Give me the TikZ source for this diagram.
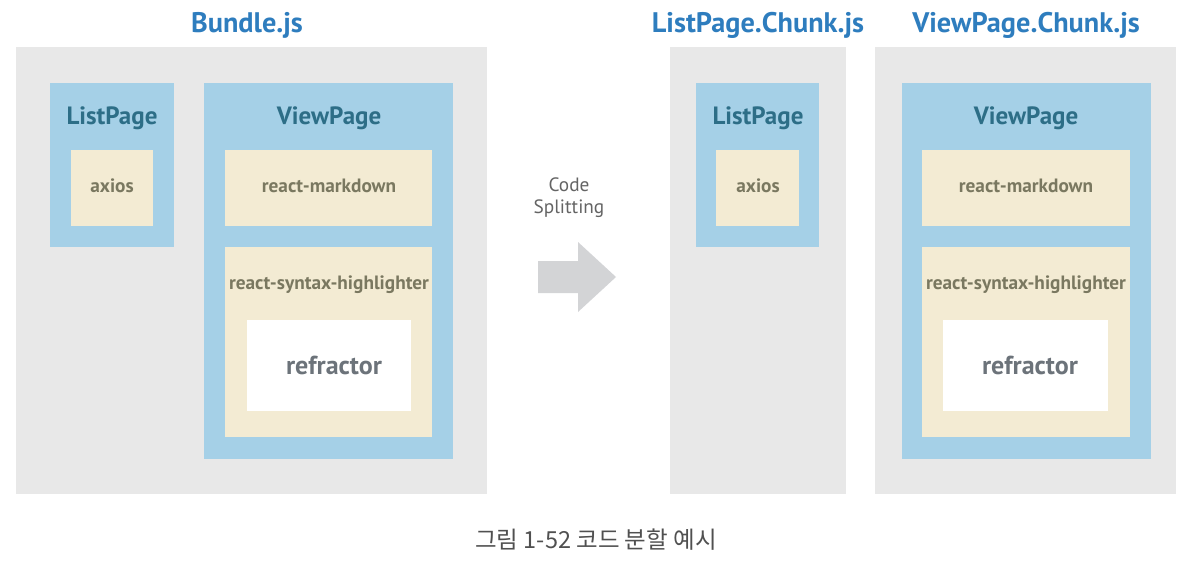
\documentclass[tikz,border=0pt]{standalone}
\usepackage{fontspec}
\setmainfont{PT Sans}
\newfontfamily\krfont{Noto Sans CJK KR}
\definecolor{bgray}{RGB}{232,232,232}
\definecolor{bblue}{RGB}{165,208,231}
\definecolor{bbeige}{RGB}{243,235,211}
\definecolor{ttitle}{RGB}{46,125,190}
\definecolor{tteal}{RGB}{45,110,135}
\definecolor{tolive}{RGB}{122,120,96}
\definecolor{tslate}{RGB}{108,115,122}
\definecolor{tgray}{RGB}{100,100,100}
\definecolor{tcap}{RGB}{80,80,80}
\definecolor{arrowgray}{RGB}{211,212,214}
\begin{document}
\begin{tikzpicture}[x=1pt,y=-1pt,
  box/.style={anchor=north west,inner sep=0pt,outer sep=0pt,draw=none},
  grayb/.style={box,fill=bgray},
  blueb/.style={box,fill=bblue},
  beigeb/.style={box,fill=bbeige},
  whiteb/.style={box,fill=white},
  lbl/.style={anchor=base,inner sep=0pt},
  titletxt/.style={lbl,text=ttitle,font=\fontsize{28.3}{32}\selectfont\bfseries},
  pagetxt/.style={lbl,text=tteal,font=\fontsize{25}{30}\selectfont\bfseries},
  libtxt/.style={lbl,text=tolive,font=\fontsize{19.3}{23}\selectfont\bfseries},
  reftxt/.style={lbl,text=tslate,font=\fontsize{26}{30}\selectfont\bfseries},
  codetxt/.style={lbl,text=tgray,font=\fontsize{19.3}{22}\selectfont},
  captxt/.style={lbl,text=tcap,font=\krfont\fontsize{23.5}{27}\selectfont}
]
\useasboundingbox (0,0) rectangle (1188,564);
% ---------- Bundle.js ----------
\node[titletxt] (t1) at (247,33) {Bundle.js};
\node[grayb,minimum width=471pt,minimum height=447pt] (g1) at (16,47) {};
\node[blueb,minimum width=124pt,minimum height=164pt] (lp1) at (50,83) {};
\node[pagetxt] (lp1t) at (112,125) {ListPage};
\node[beigeb,minimum width=82pt,minimum height=76pt] (ax1) at (71,150) {};
\node[libtxt] (ax1t) at (112,193) {axios};
\node[blueb,minimum width=249pt,minimum height=376pt] (vp1) at (204,83) {};
\node[pagetxt] (vp1t) at (329,125) {ViewPage};
\node[beigeb,minimum width=207pt,minimum height=76pt] (md1) at (225,150) {};
\node[libtxt] (md1t) at (329,193) {react-markdown};
\node[beigeb,minimum width=207pt,minimum height=190pt] (sh1) at (225,247) {};
\node[libtxt] (sh1t) at (329,289) {react-syntax-highlighter};
\node[whiteb,minimum width=164pt,minimum height=91pt] (rf1) at (247,320) {};
\node[reftxt] (rf1t) at (334,374) {refractor};
% ---------- arrow ----------
\node[codetxt] (cs1) at (569,192) {Code};
\node[codetxt] (cs2) at (569,214) {Splitting};
\fill[arrowgray] (538,261) -- (578,261) -- (578,242) -- (616,277) -- (578,312) -- (578,293) -- (538,293) -- cycle;
% ---------- ListPage.Chunk.js ----------
\node[titletxt] (t2) at (758,33) {ListPage.Chunk.js};
\node[grayb,minimum width=176pt,minimum height=447pt] (g2) at (670,47) {};
\node[blueb,minimum width=123pt,minimum height=164pt] (lp2) at (696,83) {};
\node[pagetxt] (lp2t) at (758,125) {ListPage};
\node[beigeb,minimum width=83pt,minimum height=76pt] (ax2) at (716,150) {};
\node[libtxt] (ax2t) at (758,193) {axios};
% ---------- ViewPage.Chunk.js ----------
\node[titletxt] (t3) at (1026,33) {ViewPage.Chunk.js};
\node[grayb,minimum width=301pt,minimum height=447pt] (g3) at (875,47) {};
\node[blueb,minimum width=249pt,minimum height=376pt] (vp2) at (902,83) {};
\node[pagetxt] (vp2t) at (1026,125) {ViewPage};
\node[beigeb,minimum width=208pt,minimum height=76pt] (md2) at (922,150) {};
\node[libtxt] (md2t) at (1026,193) {react-markdown};
\node[beigeb,minimum width=208pt,minimum height=190pt] (sh2) at (922,247) {};
\node[libtxt] (sh2t) at (1026,289) {react-syntax-highlighter};
\node[whiteb,minimum width=165pt,minimum height=91pt] (rf2) at (943,320) {};
\node[reftxt] (rf2t) at (1030,374) {refractor};
% ---------- caption ----------
\node[captxt] (cap) at (596,548) {그림 1-52 코드 분할 예시};
\end{tikzpicture}
\end{document}
